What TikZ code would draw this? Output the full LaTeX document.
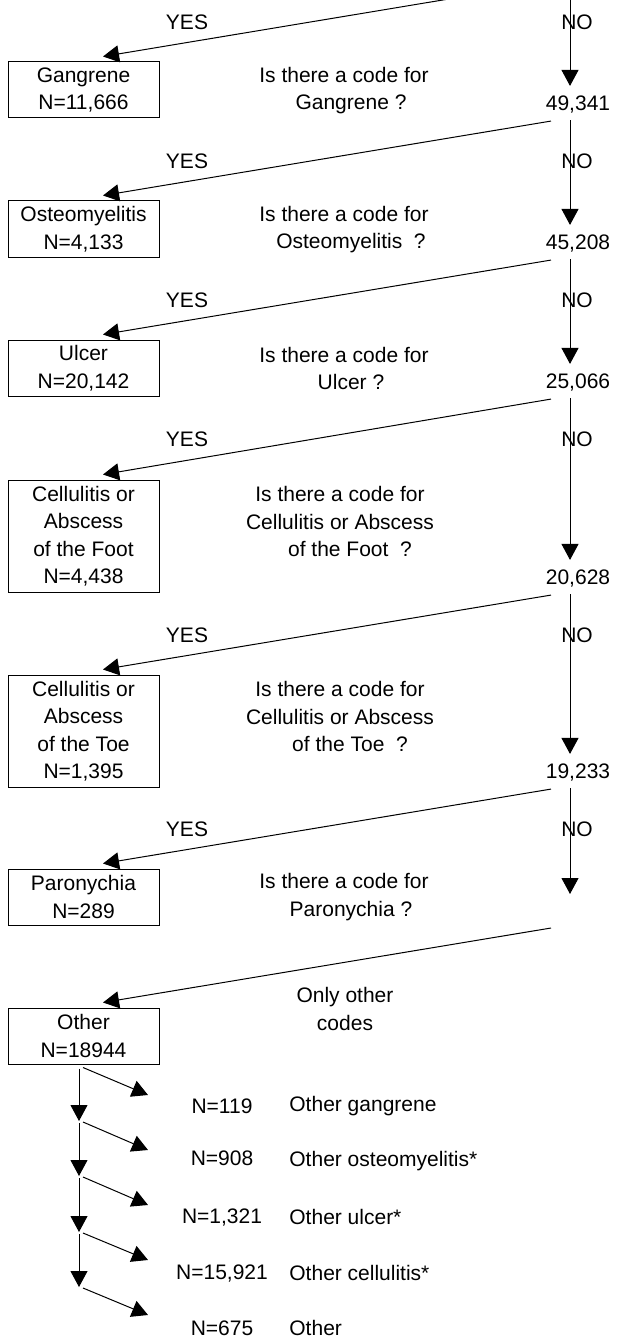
\documentclass[tikz,border=0pt]{standalone}
\usepackage{fontspec}
\setmainfont{Liberation Sans}
\usetikzlibrary{arrows.meta}

\begin{document}
\begin{tikzpicture}[x=0.5pt,y=-0.5pt,
  every node/.style={font=\fontsize{10.5}{13.75}\selectfont, inner sep=0pt},
  box/.style={draw, line width=0.5pt, minimum width=75.5pt, align=center},
  twobox/.style={box, minimum height=28pt},
  fourbox/.style={box, minimum height=56pt},
  quest/.style={align=center},
  arr/.style={-{Triangle[length=8pt,width=8.5pt]}, line width=0.5pt}]

\clip (0,0) rectangle (618,1337);

\coordinate (topyes) at (551,-18);
\coordinate (topno) at (570,-20);
\coordinate (lastno) at (570,894);
\coordinate (lastyes) at (551,928);

\coordinate (j1) at (79,1121);
\coordinate (j2) at (79,1176);
\coordinate (j3) at (79,1232);
\coordinate (j4) at (79,1287);

\coordinate (t1) at (148,1095);
\coordinate (t2) at (148,1150);
\coordinate (t3) at (148,1205);
\coordinate (t4) at (148,1260);
\coordinate (t5) at (148,1315);

\node (yes1) at (187,22) {YES};
\node (yes2) at (187,161) {YES};
\node (yes3) at (187,300) {YES};
\node (yes4) at (187,439) {YES};
\node (yes5) at (187,635) {YES};
\node (yes6) at (187,829) {YES};

\node (no1) at (577,22) {NO};
\node (no2) at (577,161) {NO};
\node (no3) at (577,300) {NO};
\node (no4) at (577,439) {NO};
\node (no5) at (577,635) {NO};
\node (no6) at (577,829) {NO};

\node [twobox] (gang) at (83.5,90) {Gangrene\\N=11,666};
\node [twobox] (osteo) at (83.5,229) {Osteomyelitis\\N=4,133};
\node [twobox] (ulcer) at (83.5,368) {Ulcer\\N=20,142};
\node [fourbox] (foot) at (83.5,536) {Cellulitis or\\Abscess\\of the Foot\\N=4,438};
\node [fourbox] (toe) at (83.5,731) {Cellulitis or\\Abscess\\of the Toe\\N=1,395};
\node [twobox] (paro) at (83.5,897) {Paronychia\\N=289};
\node [twobox] (other) at (83.5,1036) {Other\\N=18944};

\node [quest] (q1) at (344,90.5) {Is there a code for\\\hspace*{7pt}Gangrene ?};
\node [quest] (q2) at (344,229.5) {Is there a code for\\\hspace*{7pt}Osteomyelitis~ ?};
\node [quest] (q3) at (344,368.5) {Is there a code for\\\hspace*{7pt}Ulcer ?};
\node [quest] (q4) at (340,521.5) {Is there a code for\\Cellulitis or Abscess\\\hspace*{10pt}of the Foot~ ?};
\node [quest] (q5) at (340,716.5) {Is there a code for\\Cellulitis or Abscess\\\hspace*{10pt}of the Toe~ ?};
\node [quest] (q6) at (344,897) {Is there a code for\\\hspace*{7pt}Paronychia ?};
\node [quest] (q7) at (345,1009) {Only other\\codes};

\node (n1) at (578,105) {49,341};
\node (n2) at (578,244) {45,208};
\node (n3) at (578,383) {25,066};
\node (n4) at (578,579) {20,628};
\node (n5) at (578,773) {19,233};

\node (c1) at (222,1106) {N=119};
\node (c2) at (222,1158) {N=908};
\node (c3) at (222,1217) {N=1,321};
\node (c4) at (222,1273) {N=15,921};
\node (c5) at (222,1328) {N=675};

\node [anchor=west] (o1) at (289,1106) {Other gangrene};
\node [anchor=west] (o2) at (289,1161) {Other osteomyelitis*};
\node [anchor=west] (o3) at (289,1217) {Other ulcer*};
\node [anchor=west] (o4) at (289,1273) {Other cellulitis*};
\node [anchor=west] (o5) at (289,1328) {Other};

\draw [arr] (topyes) -- ([xshift=9.75pt,yshift=2.5pt]gang.north);
\draw [arr] ([xshift=-13.5pt,yshift=-3.5pt]n1.south) -- ([xshift=9.75pt,yshift=2.5pt]osteo.north);
\draw [arr] ([xshift=-13.5pt,yshift=-3.5pt]n2.south) -- ([xshift=9.75pt,yshift=2.5pt]ulcer.north);
\draw [arr] ([xshift=-13.5pt,yshift=-3.5pt]n3.south) -- ([xshift=9.75pt,yshift=2.5pt]foot.north);
\draw [arr] ([xshift=-13.5pt,yshift=-3.5pt]n4.south) -- ([xshift=9.75pt,yshift=2.5pt]toe.north);
\draw [arr] ([xshift=-13.5pt,yshift=-3.5pt]n5.south) -- ([xshift=9.75pt,yshift=2.5pt]paro.north);
\draw [arr] (lastyes) -- ([xshift=9.75pt,yshift=2.5pt]other.north);

\draw [arr] (topno) -- ([xshift=-4pt,yshift=5pt]n1.north);
\draw [arr] ([xshift=-4pt,yshift=-3pt]n1.south) -- ([xshift=-4pt,yshift=5pt]n2.north);
\draw [arr] ([xshift=-4pt,yshift=-3pt]n2.south) -- ([xshift=-4pt,yshift=5pt]n3.north);
\draw [arr] ([xshift=-4pt,yshift=-3pt]n3.south) -- ([xshift=-4pt,yshift=5pt]n4.north);
\draw [arr] ([xshift=-4pt,yshift=-3pt]n4.south) -- ([xshift=-4pt,yshift=5pt]n5.north);
\draw [arr] ([xshift=-4pt,yshift=-3pt]n5.south) -- (lastno);

\draw [arr] ([xshift=-2.25pt,yshift=-2pt]other.south) -- (j1);
\draw [arr] ([yshift=-1pt]j1) -- (j2);
\draw [arr] ([yshift=-1pt]j2) -- (j3);
\draw [arr] ([yshift=-1pt]j3) -- (j4);

\draw [arr] ([xshift=-0.25pt,yshift=-1.5pt]other.south) -- (t1);
\draw [arr] ([xshift=2pt,yshift=-0.5pt]j1) -- (t2);
\draw [arr] ([xshift=2pt,yshift=-0.5pt]j2) -- (t3);
\draw [arr] ([xshift=2pt,yshift=-0.5pt]j3) -- (t4);
\draw [arr] ([xshift=2pt,yshift=-0.5pt]j4) -- (t5);
\end{tikzpicture}
\end{document}
